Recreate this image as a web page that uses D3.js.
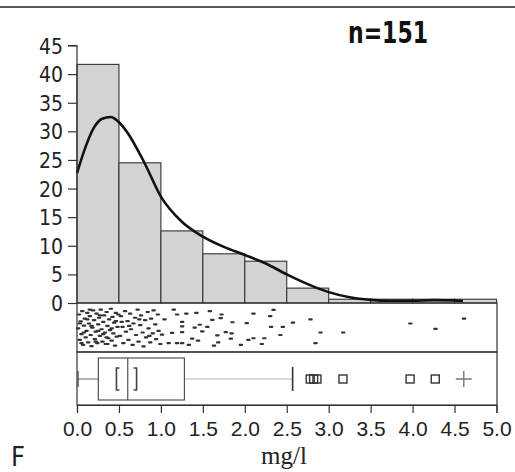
<!DOCTYPE html>
<html>
<head>
<meta charset="utf-8">
<script src="https://cdn.jsdelivr.net/npm/d3@7"></script>
<style>
	html, body { margin: 0; padding: 0; background: #fff; }
	svg { display: block; }
</style>
</head>
<body>
<svg id="chart" width="515" height="472"></svg>
<script>
// histogram bins (mg/l) and percent of samples, n=151
const binEdges = [ 0, 0.5, 1.0, 1.5, 2.0, 2.5, 3.0, 3.5, 4.0, 4.5, 5.0 ];
const binPercent = [ 41.7, 24.5, 12.6, 8.6, 7.3, 2.6, 0.66, 0.66, 0.66, 0.66 ];

// density curve
const densX = [ 0, 0.1, 0.2, 0.3, 0.4, 0.5, 0.6, 0.8, 1.0, 1.25, 1.5, 1.75, 2.0, 2.25, 2.5, 2.75, 3.0, 3.25, 3.5, 3.75, 4.0, 4.25, 4.5, 4.6 ];
const densY = [ 22.7, 27.2, 30.6, 32.2, 32.5, 31.6, 29.8, 24.6, 18.6, 14.2, 11.6, 9.8, 8.4, 6.9, 5.0, 3.3, 1.9, 1.0, 0.55, 0.4, 0.4, 0.5, 0.45, 0.35 ];

// one-dimensional scatter (value, vertical jitter 0..1)
const rugX = [
	0.01, 0.02, 0.03, 0.04, 0.05, 0.06, 0.07, 0.08, 0.09, 0.10,
	0.11, 0.12, 0.13, 0.14, 0.15, 0.16, 0.17, 0.18, 0.19, 0.20,
	0.21, 0.22, 0.23, 0.24, 0.25, 0.26, 0.27, 0.28, 0.29, 0.30,
	0.31, 0.32, 0.33, 0.34, 0.35, 0.36, 0.37, 0.38, 0.39, 0.40,
	0.41, 0.42, 0.43, 0.44, 0.45, 0.46, 0.47, 0.48, 0.49, 0.03,
	0.08, 0.12, 0.17, 0.22, 0.27, 0.31, 0.36, 0.41, 0.46, 0.05,
	0.15, 0.25, 0.35,
	0.51, 0.52, 0.54, 0.55, 0.57, 0.58, 0.60, 0.61, 0.63, 0.64,
	0.66, 0.67, 0.69, 0.70, 0.72, 0.73, 0.75, 0.76, 0.78, 0.79,
	0.81, 0.82, 0.84, 0.85, 0.87, 0.88, 0.90, 0.91, 0.93, 0.94,
	0.96, 0.97, 0.99, 0.62, 0.74, 0.86, 0.53,
	1.01, 1.04, 1.09, 1.13, 1.15, 1.19, 1.19, 1.25, 1.25, 1.25,
	1.25, 1.30, 1.33, 1.37, 1.40, 1.42, 1.44, 1.46, 1.49,
	1.55, 1.58, 1.61, 1.63, 1.67, 1.68, 1.71, 1.72, 1.77, 1.83,
	1.84, 1.85, 1.95,
	2.02, 2.04, 2.10, 2.10, 2.20, 2.23, 2.30, 2.31, 2.34, 2.42, 2.45,
	2.57, 2.78, 2.84, 2.90,
	3.17, 3.97, 4.27, 4.61,
];
const rugJitter = [
	0.52, 0.18, 0.80, 0.35, 0.66, 0.10, 0.92, 0.45, 0.28, 0.74,
	0.58, 0.14, 0.86, 0.40, 0.22, 0.68, 0.95, 0.50, 0.08, 0.32,
	0.78, 0.60, 0.16, 0.88, 0.42, 0.26, 0.70, 0.06, 0.54, 0.84,
	0.36, 0.20, 0.62, 0.90, 0.12, 0.46, 0.76, 0.30, 0.56, 0.04,
	0.82, 0.24, 0.64, 0.38, 0.94, 0.14, 0.72, 0.48, 0.18, 0.40,
	0.62, 0.30, 0.46, 0.84, 0.20, 0.66, 0.90, 0.52, 0.34, 0.88,
	0.06, 0.58, 0.74,
	0.70, 0.22, 0.48, 0.88, 0.10, 0.60, 0.34, 0.80, 0.16, 0.54,
	0.92, 0.40, 0.26, 0.68, 0.06, 0.84, 0.44, 0.20, 0.62, 0.96,
	0.32, 0.74, 0.12, 0.52, 0.86, 0.28, 0.64, 0.08, 0.42, 0.78,
	0.18, 0.58, 0.90, 0.46, 0.30, 0.70, 0.36,
	0.67, 0.30, 0.88, 0.63, 0.06, 0.18, 0.88, 0.36, 0.47, 0.61,
	0.88, 0.16, 0.92, 0.77, 0.50, 0.14, 0.82, 0.43, 0.59,
	0.48, 0.10, 0.31, 0.94, 0.69, 0.86, 0.27, 0.18, 0.61, 0.77,
	0.64, 0.37, 0.92,
	0.39, 0.80, 0.16, 0.76, 0.90, 0.76, 0.22, 0.48, 0.07, 0.68, 0.48,
	0.38, 0.30, 0.88, 0.62,
	0.62, 0.40, 0.53, 0.28,
];

// box plot summary
const boxStats = { min: 0, q1: 0.254, median: 0.605, q3: 1.28, whiskerHigh: 2.57 };
const medianCI = [ 0.47, 0.71 ];
const outliers = [ 2.78, 2.82, 2.86, 3.17, 3.97, 4.27 ];
const extremes = [ 4.61 ];

const xTicks = [ 0, 0.5, 1.0, 1.5, 2.0, 2.5, 3.0, 3.5, 4.0, 4.5, 5.0 ];
const yTicks = [ 0, 5, 10, 15, 20, 25, 30, 35, 40, 45 ];

const narrow = '"DejaVu Sans Condensed", "Liberation Sans", sans-serif';
const sans = '"Liberation Sans", Arial, sans-serif';
const serif = '"Liberation Serif", "Times New Roman", serif';

const layout = {
	left: 77,
	right: 497,
	histTop: 45.5,
	histBottom: 303,
	rugBottom: 352,
	boxBottom: 405,
};

render( '#chart' );

function render( ref ) {
	const svg = d3.select( ref );
	svg.selectAll( '*' ).remove();

	const x = d3.scaleLinear()
		.domain( [ 0, 5 ] )
		.range( [ layout.left, 496.5 ] );

	const y = d3.scaleLinear()
		.domain( [ 0, 45 ] )
		.range( [ layout.histBottom, layout.histTop ] );

	// top rule (edge of the panel above)
	svg.append( 'line' )
		.attr( 'x1', 0 ).attr( 'x2', 515 )
		.attr( 'y1', 7 ).attr( 'y2', 7 )
		.attr( 'stroke', '#222' )
		.attr( 'stroke-width', 1.5 );

	svg.call( renderBars, x, y );
	svg.call( renderDensity, x, y );
	svg.call( renderYAxis, y );
	svg.call( renderRug, x );
	svg.call( renderBox, x );
	svg.call( renderXAxis, x );

	svg.append( 'text' )
		.attr( 'x', 348 )
		.attr( 'y', 43 )
		.attr( 'font-family', narrow )
		.attr( 'font-weight', 'bold' )
		.attr( 'font-size', 31 )
		.attr( 'textLength', 80 )
		.attr( 'lengthAdjust', 'spacingAndGlyphs' )
		.attr( 'fill', '#111' )
		.text( 'n=151' );

	svg.append( 'text' )
		.attr( 'x', 284 )
		.attr( 'y', 464 )
		.attr( 'text-anchor', 'middle' )
		.attr( 'font-family', serif )
		.attr( 'font-size', 25 )
		.attr( 'fill', '#222' )
		.text( 'mg/l' );

	svg.append( 'text' )
		.attr( 'x', 11 )
		.attr( 'y', 466 )
		.attr( 'font-family', narrow )
		.attr( 'font-size', 27 )
		.attr( 'fill', '#222' )
		.text( 'F' );
}

function renderBars( svg, x, y ) {
	svg.append( 'g' )
		.selectAll( 'rect' )
		.data( binPercent )
		.join( 'rect' )
		.attr( 'x', ( d, i ) => x( binEdges[ i ] ) )
		.attr( 'y', d => y( d ) )
		.attr( 'width', ( d, i ) => x( binEdges[ i + 1 ] ) - x( binEdges[ i ] ) )
		.attr( 'height', d => y( 0 ) - y( d ) )
		.attr( 'fill', '#d3d3d3' )
		.attr( 'stroke', '#333' )
		.attr( 'stroke-width', 1.1 );
}

function renderDensity( svg, x, y ) {
	const line = d3.line()
		.x( d => x( d[ 0 ] ) )
		.y( d => y( d[ 1 ] ) )
		.curve( d3.curveMonotoneX );

	svg.append( 'path' )
		.datum( d3.zip( densX, densY ) )
		.attr( 'd', line )
		.attr( 'fill', 'none' )
		.attr( 'stroke', '#111' )
		.attr( 'stroke-width', 2.6 );
}

function renderYAxis( svg, y ) {
	const yAxis = d3.axisLeft( y )
		.tickValues( yTicks )
		.tickSize( 9 )
		.tickPadding( 5 )
		.tickFormat( d3.format( 'd' ) );

	const container = svg.append( 'g' )
		.attr( 'transform', `translate(${ layout.left }, 0)` )
		.call( yAxis );

	container.select( '.domain' )
		.attr( 'd', `M-9,${ layout.histTop }H0V${ layout.histBottom }` )
		.attr( 'stroke', '#333' )
		.attr( 'stroke-width', 1.2 );

	container.selectAll( '.tick line' )
		.attr( 'stroke', '#333' )
		.attr( 'stroke-width', 1.2 );

	container.selectAll( 'text' )
		.attr( 'font-family', narrow )
		.attr( 'font-size', 21 )
		.attr( 'fill', '#222' )
		.attr( 'dy', '0.36em' );
}

function renderRug( svg, x ) {
	const top = layout.histBottom;
	const bottom = layout.rugBottom;
	const jy = d3.scaleLinear().domain( [ 0, 1 ] ).range( [ top + 4, bottom - 4 ] );

	svg.append( 'rect' )
		.attr( 'x', layout.left )
		.attr( 'y', top )
		.attr( 'width', layout.right - layout.left )
		.attr( 'height', bottom - top )
		.attr( 'fill', 'none' )
		.attr( 'stroke', '#333' )
		.attr( 'stroke-width', 1.2 );

	svg.append( 'g' )
		.selectAll( 'rect' )
		.data( d3.zip( rugX, rugJitter ) )
		.join( 'rect' )
		.attr( 'x', d => x( d[ 0 ] ) - 2 )
		.attr( 'y', d => jy( d[ 1 ] ) - 1 )
		.attr( 'width', 4.5 )
		.attr( 'height', 2.2 )
		.attr( 'rx', 1 )
		.attr( 'fill', '#333' );
}

function renderBox( svg, x ) {
	const top = layout.rugBottom;
	const bottom = layout.boxBottom;
	const mid = ( top + bottom ) / 2 + 0.5;
	const g = svg.append( 'g' );

	g.append( 'rect' )
		.attr( 'x', layout.left )
		.attr( 'y', top )
		.attr( 'width', layout.right - layout.left )
		.attr( 'height', bottom - top )
		.attr( 'fill', 'none' )
		.attr( 'stroke', '#333' )
		.attr( 'stroke-width', 1.2 );

	// whiskers
	g.append( 'line' )
		.attr( 'x1', x( boxStats.min ) ).attr( 'x2', x( boxStats.q1 ) )
		.attr( 'y1', mid ).attr( 'y2', mid )
		.attr( 'stroke', '#666' );
	g.append( 'line' )
		.attr( 'x1', x( boxStats.q3 ) ).attr( 'x2', x( boxStats.whiskerHigh ) )
		.attr( 'y1', mid ).attr( 'y2', mid )
		.attr( 'stroke', '#666' )
		.attr( 'stroke-dasharray', '1,1' );
	g.append( 'line' )
		.attr( 'x1', x( boxStats.whiskerHigh ) ).attr( 'x2', x( boxStats.whiskerHigh ) )
		.attr( 'y1', mid - 12 ).attr( 'y2', mid + 12 )
		.attr( 'stroke', '#333' )
		.attr( 'stroke-width', 1.6 );
	g.append( 'line' )
		.attr( 'x1', x( boxStats.min ) + 1 ).attr( 'x2', x( boxStats.min ) + 1 )
		.attr( 'y1', mid - 8 ).attr( 'y2', mid + 8 )
		.attr( 'stroke', '#555' )
		.attr( 'stroke-width', 1.5 );

	// box and median
	g.append( 'rect' )
		.attr( 'x', x( boxStats.q1 ) )
		.attr( 'y', mid - 21 )
		.attr( 'width', x( boxStats.q3 ) - x( boxStats.q1 ) )
		.attr( 'height', 42 )
		.attr( 'fill', 'none' )
		.attr( 'stroke', '#444' )
		.attr( 'stroke-width', 1.1 );
	g.append( 'line' )
		.attr( 'x1', x( boxStats.median ) ).attr( 'x2', x( boxStats.median ) )
		.attr( 'y1', mid - 21 ).attr( 'y2', mid + 21 )
		.attr( 'stroke', '#444' )
		.attr( 'stroke-width', 1.1 );

	// median confidence brackets
	g.selectAll( 'path.ci' )
		.data( medianCI )
		.join( 'path' )
		.attr( 'class', 'ci' )
		.attr( 'd', ( d, i ) => {
			const cx = x( d );
			const s = i === 0 ? 3 : -3;
			return `M${ cx + s },${ mid - 11 }H${ cx }V${ mid + 11 }H${ cx + s }`;
		} )
		.attr( 'fill', 'none' )
		.attr( 'stroke', '#444' )
		.attr( 'stroke-width', 1.6 );

	// outliers
	g.selectAll( 'rect.out' )
		.data( outliers )
		.join( 'rect' )
		.attr( 'class', 'out' )
		.attr( 'x', d => x( d ) - 4 )
		.attr( 'y', mid - 4 )
		.attr( 'width', 8 )
		.attr( 'height', 8 )
		.attr( 'fill', 'none' )
		.attr( 'stroke', '#333' )
		.attr( 'stroke-width', 1.4 );

	g.selectAll( 'path.ext' )
		.data( extremes )
		.join( 'path' )
		.attr( 'class', 'ext' )
		.attr( 'd', d => `M${ x( d ) - 8 },${ mid }H${ x( d ) + 8 }M${ x( d ) },${ mid - 8 }V${ mid + 8 }` )
		.attr( 'stroke', '#777' )
		.attr( 'stroke-width', 1.4 );
}

function renderXAxis( svg, x ) {
	const xAxis = d3.axisBottom( x )
		.tickValues( xTicks )
		.tickSize( 8 )
		.tickPadding( 8 )
		.tickFormat( d3.format( '.1f' ) );

	const container = svg.append( 'g' )
		.attr( 'transform', `translate(0, ${ layout.boxBottom })` )
		.call( xAxis );

	container.select( '.domain' )
		.attr( 'stroke', '#333' )
		.attr( 'stroke-width', 1.2 );

	container.selectAll( '.tick line' )
		.attr( 'stroke', '#333' )
		.attr( 'stroke-width', 1.2 );

	container.selectAll( 'text' )
		.attr( 'font-family', sans )
		.attr( 'font-size', 21 )
		.attr( 'fill', '#222' );
}
</script>
</body>
</html>
